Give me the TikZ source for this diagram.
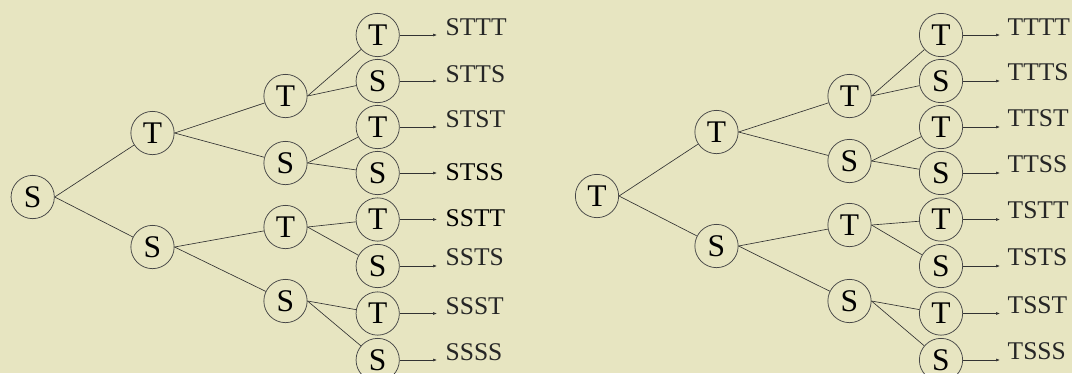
\documentclass[tikz,border=0pt]{standalone}
\usepackage{fontspec}
\setmainfont{Liberation Serif}
\usetikzlibrary{arrows.meta}
\definecolor{bg}{RGB}{231,229,193}
\begin{document}
\begin{tikzpicture}[x=1pt,y=-1pt,
  st/.style={circle,draw=black!72,line width=0.75pt,minimum size=43.3pt,inner sep=0pt,font=\fontsize{31.5}{31.5}\selectfont},
  edge/.style={draw=black!80,line width=0.65pt},
  arr/.style={draw=black!80,line width=0.65pt,-{Latex[length=4pt,width=3pt]}},
  lab/.style={anchor=west,inner sep=0pt,font=\fontsize{25.5}{25.5}\selectfont,text=black!85},
  labd/.style={lab,text=black},
]
\fill[bg] (0,0) rectangle (1072,373);
\useasboundingbox (0,0) rectangle (1072,373);

% ---------- left tree ----------
\node[st] (Lr) at (32.7,197) {S};
\node[st] (La) at (152.5,133) {T};
\node[st] (Lb) at (152.5,247) {S};
\node[st] (Laa) at (285.5,96) {T};
\node[st] (Lab) at (285.5,163) {S};
\node[st] (Lba) at (285.5,227) {T};
\node[st] (Lbb) at (285.5,301) {S};
\node[st] (L1) at (377.7,35) {T};
\node[st] (L2) at (377.7,81) {S};
\node[st] (L3) at (377.7,127) {T};
\node[st] (L4) at (377.7,173) {S};
\node[st] (L5) at (377.7,219.5) {T};
\node[st] (L6) at (377.7,266) {S};
\node[st] (L7) at (377.7,313.5) {T};
\node[st] (L8) at (377.7,360) {S};

\draw[edge] (Lr.east) -- (La);
\draw[edge] (Lr.east) -- (Lb);
\draw[edge] (La.east) -- (Laa);
\draw[edge] (La.east) -- (Lab);
\draw[edge] (Lb.east) -- (Lba);
\draw[edge] (Lb.east) -- (Lbb);
\draw[edge] (Laa.east) -- (L1);
\draw[edge] (Laa.east) -- (L2);
\draw[edge] (Lab.east) -- (L3);
\draw[edge] (Lab.east) -- (L4);
\draw[edge] (Lba.east) -- (L5);
\draw[edge] (Lba.east) -- (L6);
\draw[edge] (Lbb.east) -- (L7);
\draw[edge] (Lbb.east) -- (L8);

\node[lab]  (Lt1) at (445.5,27)    {STTT};
\node[lab]  (Lt2) at (445.5,74)    {STTS};
\node[lab]  (Lt3) at (445.5,118.7) {STST};
\node[labd] (Lt4) at (445.5,172)   {STSS};
\node[labd] (Lt5) at (445.5,218)   {SSTT};
\node[lab]  (Lt6) at (445.5,257)   {SSTS};
\node[lab]  (Lt7) at (445.5,306)   {SSST};
\node[lab]  (Lt8) at (445.5,352)   {SSSS};

\foreach \i/\y in {1/35,2/81,3/127,4/173,5/219.5,6/266,7/313.5,8/360}{
  \coordinate (Le\i) at (437,\y);
  \draw[arr] (L\i.east) -- (Le\i);
}

% ---------- right tree ----------
\node[st] (Rr) at (597,196) {T};
\node[st] (Ra) at (716.5,132) {T};
\node[st] (Rb) at (716.5,246) {S};
\node[st] (Raa) at (849.5,96) {T};
\node[st] (Rab) at (849.5,161) {S};
\node[st] (Rba) at (849.5,225) {T};
\node[st] (Rbb) at (849.5,301) {S};
\node[st] (R1) at (941,35) {T};
\node[st] (R2) at (941,81) {S};
\node[st] (R3) at (941,127) {T};
\node[st] (R4) at (941,173) {S};
\node[st] (R5) at (941,219.5) {T};
\node[st] (R6) at (941,266) {S};
\node[st] (R7) at (941,313.5) {T};
\node[st] (R8) at (941,360) {S};

\draw[edge] (Rr.east) -- (Ra);
\draw[edge] (Rr.east) -- (Rb);
\draw[edge] (Ra.east) -- (Raa);
\draw[edge] (Ra.east) -- (Rab);
\draw[edge] (Rb.east) -- (Rba);
\draw[edge] (Rb.east) -- (Rbb);
\draw[edge] (Raa.east) -- (R1);
\draw[edge] (Raa.east) -- (R2);
\draw[edge] (Rab.east) -- (R3);
\draw[edge] (Rab.east) -- (R4);
\draw[edge] (Rba.east) -- (R5);
\draw[edge] (Rba.east) -- (R6);
\draw[edge] (Rbb.east) -- (R7);
\draw[edge] (Rbb.east) -- (R8);

\node[lab] (Rt1) at (1007.5,27)    {TTTT};
\node[lab] (Rt2) at (1007.5,72.5)  {TTTS};
\node[lab] (Rt3) at (1007.5,117.7) {TTST};
\node[lab] (Rt4) at (1007.5,164)   {TTSS};
\node[lab] (Rt5) at (1007.5,209.7) {TSTT};
\node[lab] (Rt6) at (1007.5,257)   {TSTS};
\node[lab] (Rt7) at (1007.5,305.5) {TSST};
\node[lab] (Rt8) at (1007.5,351)   {TSSS};

\foreach \i/\y in {1/35,2/81,3/127,4/173,5/219.5,6/266,7/313.5,8/360}{
  \coordinate (Re\i) at (1000,\y);
  \draw[arr] (R\i.east) -- (Re\i);
}
\end{tikzpicture}
\end{document}
